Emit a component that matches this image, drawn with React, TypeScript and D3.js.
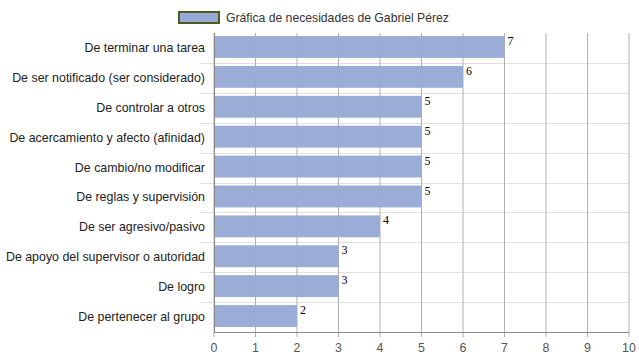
import { useRef, useEffect } from 'react';
import * as d3 from 'd3';

const categories = [
  'De terminar una tarea',
  'De ser notificado (ser considerado)',
  'De controlar a otros',
  'De acercamiento y afecto (afinidad)',
  'De cambio/no modificar',
  'De reglas y supervisión',
  'De ser agresivo/pasivo',
  'De apoyo del supervisor o autoridad',
  'De logro',
  'De pertenecer al grupo',
];
const values = [7, 6, 5, 5, 5, 5, 4, 3, 3, 2];
const xTicks = [0, 1, 2, 3, 4, 5, 6, 7, 8, 9, 10];
const seriesLabel = 'Gráfica de necesidades de Gabriel Pérez';

const WIDTH = 639;
const HEIGHT = 360;
const PLOT = { left: 214, right: 629, top: 33, bottom: 332 };
const FONT = 'Arial, "Liberation Sans", sans-serif';
const BAR = '#97aad6';

export default function App() {
  const svgRef = useRef<SVGSVGElement>(null);

  useEffect(() => {
    if (!svgRef.current) return;
    const svg = d3.select(svgRef.current);
    svg.selectAll('*').remove();

    const x = d3.scaleLinear().domain([0, 10]).range([PLOT.left, PLOT.right]);
    const y = d3.scaleBand<string>().domain(categories).range([PLOT.top, PLOT.bottom]);
    const bw = y.bandwidth();

    // category separators
    svg.append('g')
      .selectAll('line')
      .data(categories.slice(1))
      .join('line')
      .attr('x1', 200)
      .attr('x2', PLOT.right)
      .attr('y1', d => Math.round(y(d)!) + 0.5)
      .attr('y2', d => Math.round(y(d)!) + 0.5)
      .attr('stroke', '#e0e0e0');

    // vertical gridlines (with small ticks below the axis)
    svg.append('g')
      .selectAll('line')
      .data(xTicks)
      .join('line')
      .attr('x1', d => x(d))
      .attr('x2', d => x(d))
      .attr('y1', PLOT.top)
      .attr('y2', PLOT.bottom + 5)
      .attr('stroke', '#b0b0b0');

    // bars
    svg.append('g')
      .selectAll('rect')
      .data(values)
      .join('rect')
      .attr('x', x(0))
      .attr('y', (_, i) => y(categories[i])! + 3)
      .attr('width', d => x(d) - x(0))
      .attr('height', bw - 8)
      .attr('fill', BAR)
      .attr('fill-opacity', 0.97);

    // value labels
    svg.append('g')
      .selectAll('text')
      .data(values)
      .join('text')
      .attr('x', d => x(d) + 3)
      .attr('y', (_, i) => y(categories[i])! + 12)
      .attr('font-family', '"Liberation Serif", "Times New Roman", serif')
      .attr('font-size', 12)
      .attr('fill', '#000')
      .text(d => d);

    // axis lines
    svg.append('line')
      .attr('x1', PLOT.left).attr('x2', PLOT.right)
      .attr('y1', PLOT.bottom + 0.5).attr('y2', PLOT.bottom + 0.5)
      .attr('stroke', '#888');
    svg.append('line')
      .attr('x1', PLOT.left + 0.5).attr('x2', PLOT.left + 0.5)
      .attr('y1', PLOT.top).attr('y2', PLOT.bottom)
      .attr('stroke', '#888');

    // x tick labels
    svg.append('g')
      .selectAll('text')
      .data(xTicks)
      .join('text')
      .attr('x', d => x(d))
      .attr('y', 352)
      .attr('text-anchor', 'middle')
      .attr('font-family', FONT)
      .attr('font-size', 12.4)
      .attr('fill', '#555')
      .text(d => d);

    // category labels
    svg.append('g')
      .selectAll('text')
      .data(categories)
      .join('text')
      .attr('x', 205)
      .attr('y', d => y(d)! + bw / 2 + 4)
      .attr('text-anchor', 'end')
      .attr('font-family', FONT)
      .attr('font-size', 12.4)
      .attr('fill', '#222')
      .text(d => d);

    // legend
    svg.append('rect')
      .attr('x', 179).attr('y', 12)
      .attr('width', 40).attr('height', 11)
      .attr('fill', BAR)
      .attr('stroke', '#4f5a1e')
      .attr('stroke-width', 2);
    svg.append('text')
      .attr('x', 226).attr('y', 21.5)
      .attr('font-family', FONT)
      .attr('font-size', 12.2)
      .attr('fill', '#333')
      .text(seriesLabel);
  }, []);

  return (
    <svg
      ref={svgRef}
      width={WIDTH}
      height={HEIGHT}
      style={{ position: 'absolute', left: 0, top: 0, background: '#fff' }}
    />
  );
}
